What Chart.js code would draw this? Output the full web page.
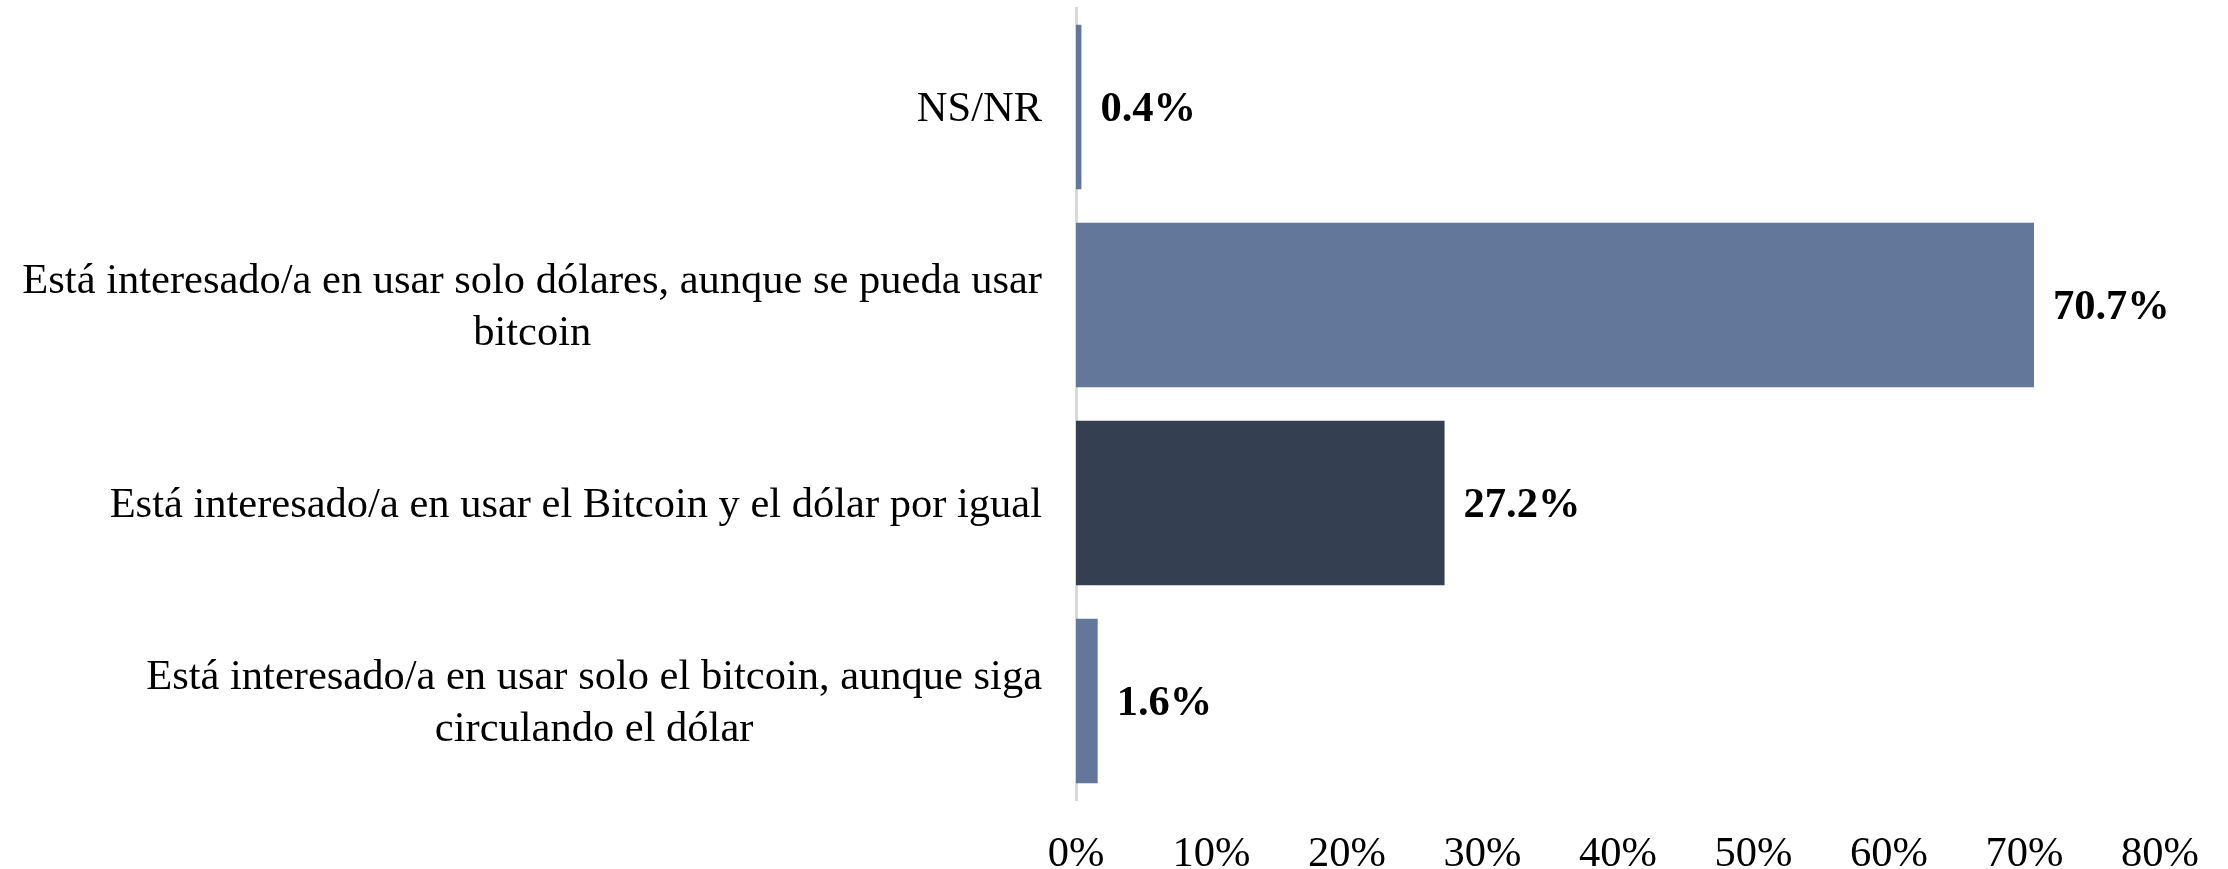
<!DOCTYPE html>
<html>
<head>
<meta charset="utf-8">
<script src="https://cdn.jsdelivr.net/npm/chart.js@4/dist/chart.umd.min.js"></script>
<style>
  html, body { margin: 0; padding: 0; background: #fff; }
  #wrap { width: 2228px; height: 869px; }
</style>
</head>
<body>
<div id="wrap"><canvas id="chart" width="2228" height="869"></canvas></div>
<script>
const categories = [
  ['NS/NR'],
  ['Está interesado/a en usar solo dólares, aunque se pueda usar', 'bitcoin'],
  ['Está interesado/a en usar el Bitcoin y el dólar por igual'],
  ['Está interesado/a en usar solo el bitcoin, aunque siga', 'circulando el dólar'],
];
const values = [0.4, 70.7, 27.2, 1.6];
const barColors = ['#62779a', '#62779a', '#343f52', '#62779a'];
const xTicks = [0, 10, 20, 30, 40, 50, 60, 70, 80];

const FONT = '"Liberation Serif", "Times New Roman", serif';

// category labels: block right-aligned next to the axis, lines centred inside the block
const categoryLabels = {
  id: 'categoryLabels',
  afterDraw(chart) {
    const { ctx, chartArea } = chart;
    const yScale = chart.scales.y;
    ctx.save();
    ctx.font = `42.5px ${FONT}`;
    ctx.fillStyle = '#000';
    ctx.textAlign = 'center';
    ctx.textBaseline = 'middle';
    const lineH = 52;
    categories.forEach((lines, i) => {
      const widest = Math.max(...lines.map((l) => ctx.measureText(l).width));
      const cx = chartArea.left - 34 - widest / 2;
      const cy = yScale.getPixelForValue(i) + 3;
      const y0 = cy - ((lines.length - 1) * lineH) / 2;
      lines.forEach((l, j) => ctx.fillText(l, cx, y0 + j * lineH));
    });
    ctx.restore();
  },
};

// value labels at the end of each bar
const valueLabels = {
  id: 'valueLabels',
  afterDatasetsDraw(chart) {
    const { ctx } = chart;
    const meta = chart.getDatasetMeta(0);
    ctx.save();
    ctx.font = `bold 42.5px ${FONT}`;
    ctx.fillStyle = '#000';
    ctx.textAlign = 'left';
    ctx.textBaseline = 'middle';
    meta.data.forEach((bar, i) => {
      ctx.fillText(values[i].toFixed(1) + '%', bar.x + 19, bar.y + 3);
    });
    ctx.restore();
  },
};

new Chart(document.getElementById('chart'), {
  type: 'bar',
  data: {
    labels: categories.map((c) => c.join(' ')),
    datasets: [
      {
        data: values,
        backgroundColor: barColors,
        borderWidth: 0,
        categoryPercentage: 0.83,
        barPercentage: 1,
      },
    ],
  },
  options: {
    indexAxis: 'y',
    responsive: false,
    animation: false,
    layout: { padding: { top: 8, right: 68, left: 0, bottom: 0 } },
    plugins: {
      legend: { display: false },
      tooltip: { enabled: false },
    },
    scales: {
      x: {
        min: 0,
        max: 80,
        afterBuildTicks: (scale) => {
          scale.ticks = xTicks.map((v) => ({ value: v }));
        },
        afterFit: (scale) => {
          scale.height = 69;
        },
        grid: { display: false, drawTicks: false },
        border: { display: false },
        ticks: {
          padding: 29,
          color: '#000',
          font: { family: FONT, size: 42.5 },
          callback: (v) => v + '%',
        },
      },
      y: {
        afterFit: (scale) => {
          scale.width = 1076;
        },
        grid: { display: false, drawTicks: false },
        border: { display: true, color: '#d9d9d9', width: 3 },
        ticks: { display: false },
      },
    },
  },
  plugins: [categoryLabels, valueLabels],
});
</script>
</body>
</html>
